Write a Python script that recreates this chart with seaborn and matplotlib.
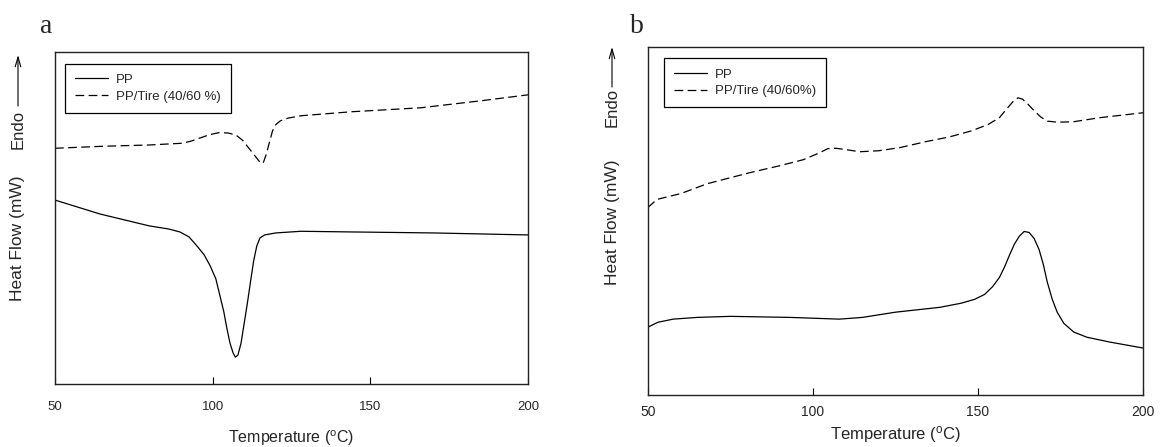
import matplotlib
matplotlib.use('Agg')
import matplotlib.pyplot as plt
import seaborn as sns
import pandas as pd

# panel a (cooling scans), heat flow in arbitrary units
temp_a_pp = [50, 64.3, 80, 86, 89.6, 92.5, 95, 97.3, 99.2, 101, 102.3, 103.5, 104.5, 105.5, 106.5, 107.2, 108, 109, 110, 111,
             112, 113, 114, 115, 116.5, 120, 128, 144, 170, 200]
hf_a_pp = [55.4, 51.2, 47.6, 46.7, 45.8, 44.3, 41.6, 38.9, 35.6, 31.7, 26.6, 21.9, 16.8, 12.3, 9.3, 8.1, 8.7, 12.3, 18.3, 24.3,
           30.8, 37.1, 41.6, 44.0, 44.9, 45.5, 46.0, 45.8, 45.5, 44.9]
temp_a_blend = [50, 65, 80, 90, 93, 96, 99, 102, 105, 107.5, 109.5, 111.5, 113.5, 115, 116, 117, 118, 119, 120, 121.5,
                124, 128, 144, 166, 185, 200]
hf_a_blend = [71.0, 71.6, 72.0, 72.5, 73.1, 74.1, 75.1, 75.7, 75.6, 74.9, 73.4, 71.0, 68.6, 66.8, 66.5, 69.2, 72.8, 76.3, 78.1, 79.3,
              80.1, 80.8, 82.0, 83.2, 85.3, 87.1]

# panel b (heating scans)
temp_b_pp = [50, 53, 57.6, 65, 75, 93, 108, 115, 125, 138.5, 145, 149, 152, 154.5, 156.5, 158, 159.5, 161, 162.5, 164,
             165.5, 167, 168.5, 169.8, 171, 172.5, 174, 176, 179, 183, 190, 200]
hf_b_pp = [19.5, 20.9, 21.8, 22.3, 22.6, 22.3, 21.8, 22.3, 23.8, 25.2, 26.4, 27.5, 28.9, 31.2, 33.8, 36.7, 40.1, 43.3, 45.6, 47.0,
           46.7, 45.0, 41.8, 37.5, 32.4, 27.5, 23.8, 20.6, 18.1, 16.6, 15.2, 13.5]
temp_b_blend = [50, 52.7, 60, 67.9, 80.9, 90, 97, 102, 104.5, 107, 110, 114.2, 120, 126.4, 134.2, 141.5, 148, 153, 156.5, 158.5,
                160.5, 162.1, 163.5, 165, 167, 169, 171, 174, 178.8, 187, 200]
hf_b_blend = [53.9, 56.2, 57.9, 60.7, 63.9, 65.9, 67.6, 69.6, 70.8, 70.9, 70.5, 69.9, 70.2, 71.1, 72.8, 74.2, 75.9, 77.7, 79.7, 82.0,
              84.2, 85.4, 85.0, 83.7, 81.7, 79.9, 78.7, 78.4, 78.5, 79.7, 81.1]

labels_a = ['PP', 'PP/Tire (40/60 %)']
labels_b = ['PP', 'PP/Tire (40/60%)']
xticks = [50, 100, 150, 200]

sns.set_theme(style='white')
plt.rcParams['font.family'] = ['Liberation Sans', 'DejaVu Sans']

W, H = 1160, 447
fig = plt.figure(figsize=(W / 100, H / 100), dpi=100)
ax_a = fig.add_axes([55 / W, 1 - 384 / H, (528 - 55) / W, (384 - 52) / H])
ax_b = fig.add_axes([648 / W, 1 - 395 / H, (1143 - 648) / W, (395 - 47) / H])

dash = (0, (7, 3.5))
panels = [
    # ax, data..., labels, legend anchor, tick size, tick pad, label size, label pad
    (ax_a, temp_a_pp, hf_a_pp, temp_a_blend, hf_a_blend, labels_a, (0.022, 0.964), 9.5, 12, 11.5, 11),
    (ax_b, temp_b_pp, hf_b_pp, temp_b_blend, hf_b_blend, labels_b, (0.032, 0.967), 10, 7, 12, 4),
]
for ax, tp, hp, tb, hb, labs, anchor, tfs, tpad, lfs, lpad in panels:
    df_pp = pd.DataFrame({'T': tp, 'hf': hp})
    df_bl = pd.DataFrame({'T': tb, 'hf': hb})
    sns.lineplot(data=df_pp, x='T', y='hf', ax=ax, color='black', lw=0.9, label=labs[0])
    sns.lineplot(data=df_bl, x='T', y='hf', ax=ax, color='black', lw=0.9, linestyle=dash, label=labs[1])
    ax.set_xlim(50, 200)
    ax.set_ylim(0, 100)
    ax.set_xticks(xticks)
    ax.set_xticklabels([str(t) for t in xticks], fontsize=tfs)
    ax.set_yticks([])
    ax.set_ylabel('')
    ax.set_xlabel('Temperature ($\\mathregular{^o}$C)', fontsize=lfs, labelpad=lpad)
    ax.tick_params(axis='x', direction='in', length=5, width=0.8, color='black', bottom=True, pad=tpad)
    for s in ax.spines.values():
        s.set_color('#222222')
        s.set_linewidth(1.0)
    leg = ax.legend(loc='upper left', bbox_to_anchor=anchor, borderaxespad=0, fancybox=False,
                    edgecolor='black', framealpha=1, fontsize=9.5, handlelength=2.5,
                    handletextpad=0.6, labelspacing=0.35, borderpad=0.75)
    leg.get_frame().set_linewidth(0.9)

# panel letters and y-axis annotations
fig.text(40 / W, 1 - 33 / H, 'a', family='Liberation Serif', fontsize=20, va='baseline')
fig.text(630 / W, 1 - 33 / H, 'b', family='Liberation Serif', fontsize=20, va='baseline')

for x, endo_y, arr_top, arr_bot, hf_y in [(18, 129, 55, 106, 238), (612, 107, 47, 87, 222)]:
    fig.text(x / W, 1 - endo_y / H, 'Endo', rotation=90, ha='center', va='center', fontsize=12)
    fig.text(x / W, 1 - hf_y / H, 'Heat Flow (mW)', rotation=90, ha='center', va='center', fontsize=12.5)
    fig.add_artist(matplotlib.patches.FancyArrowPatch(
        (x / W, 1 - arr_bot / H), (x / W, 1 - arr_top / H), transform=fig.transFigure,
        arrowstyle='->,head_length=7,head_width=2', lw=0.8, color='black', shrinkA=0, shrinkB=0))

fig.savefig('out.png', dpi=100)
